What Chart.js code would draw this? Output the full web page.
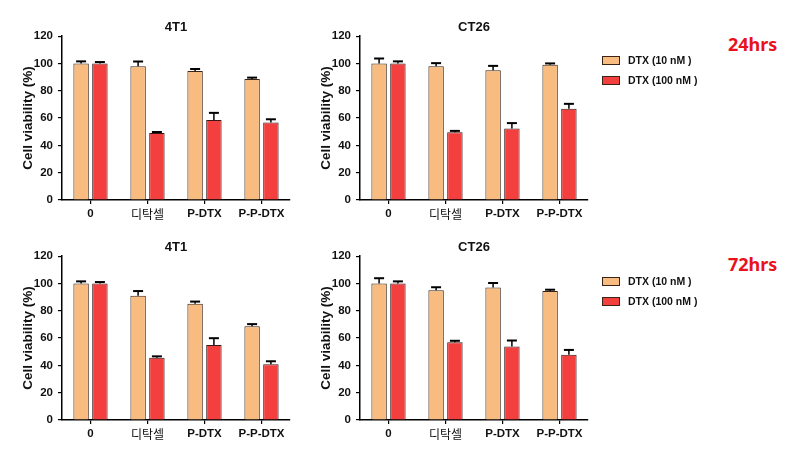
<!DOCTYPE html>
<html>
<head>
<meta charset="utf-8">
<script src="https://cdn.jsdelivr.net/npm/chart.js@4.4.1/dist/chart.umd.min.js"></script>
<style>
  html, body { margin: 0; padding: 0; background: #fff; }
  body { width: 805px; height: 461px; position: relative; overflow: hidden;
         font-family: "Liberation Sans", Arial, sans-serif; }
  .panel { position: absolute; width: 300px; height: 230px; }
  .legend { position: absolute; left: 602px; font-size: 10.5px; font-weight: bold; color: #111; }
  .legend .row { position: absolute; left: 0; white-space: nowrap; height: 12px; line-height: 12px; }
  .legend .box { position: absolute; left: 0; top: 2px; width: 16px; height: 7px; border: 1px solid #3b2416; }
  .legend .lbl { position: absolute; left: 26px; top: 0; }
  .hrs { position: absolute; left: 728px; color: #e8121e; font-size: 18px; font-weight: bold;
         font-family: "Noto Sans", "Liberation Sans", sans-serif; line-height: 20px; }
</style>
</head>
<body>
<div class="panel" style="left:0;top:0"><canvas id="c4T1_24"></canvas></div>
<div class="panel" style="left:298px;top:0"><canvas id="cCT26_24"></canvas></div>
<div class="panel" style="left:0;top:220px"><canvas id="c4T1_72"></canvas></div>
<div class="panel" style="left:298px;top:220px"><canvas id="cCT26_72"></canvas></div>

<div class="hrs" style="top:34px">24hrs</div>
<div class="hrs" style="top:254px">72hrs</div>
<div class="legend" id="leg24" style="top:54px"></div>
<div class="legend" id="leg72" style="top:275px"></div>

<script>
/* ==========================
   DADOS
========================== */
const categories = ["0", "디탁셀", "P-DTX", "P-P-DTX"];
const seriesNames = ["DTX (10 nM )", "DTX (100 nM )"];
const seriesColors = ["#f9bc80", "#f3403f"];
const yTicks = [0, 20, 40, 60, 80, 100, 120];

// 4T1 - 24hrs
const v4T1_24_10 = [100, 98, 94.4, 88.6];
const e4T1_24_10 = [1.5, 3.4, 1.5, 1];
const v4T1_24_100 = [100, 49, 58.6, 56.7];
const e4T1_24_100 = [1, 0.8, 5.2, 2.4];

// CT26 - 24hrs
const vCT26_24_10 = [100, 98, 95, 99];
const eCT26_24_10 = [3.6, 2.2, 3.2, 1];
const vCT26_24_100 = [100, 49.6, 52.3, 66.8];
const eCT26_24_100 = [1.5, 1, 4, 3.6];

// 4T1 - 72hrs
const v4T1_72_10 = [100, 91, 85.2, 68.7];
const e4T1_72_10 = [1.5, 3.4, 1.5, 1.5];
const v4T1_72_100 = [100, 45.6, 54.9, 40.8];
const e4T1_72_100 = [1, 1, 5, 2.2];

// CT26 - 72hrs
const vCT26_72_10 = [100, 95, 97, 94.4];
const eCT26_72_10 = [3.8, 2.2, 3.3, 1];
const vCT26_72_100 = [100, 57, 53.9, 47.8];
const eCT26_72_100 = [1.5, 1, 4.3, 3.5];

const FONT = "'Liberation Sans', Arial, 'Noto Sans CJK KR', sans-serif";

/* ==========================
   PLUGIN - BARRAS DE ERRO
========================== */
const errorBars = {
    id: "errorBars",
    afterDatasetsDraw(chart) {
        const ctx = chart.ctx;
        const yScale = chart.scales.y;
        chart.data.datasets.forEach((ds, i) => {
            const meta = chart.getDatasetMeta(i);
            meta.data.forEach((bar, j) => {
                const err = ds.errors[j];
                const yTop = yScale.getPixelForValue(ds.data[j] + err);
                const yBase = yScale.getPixelForValue(ds.data[j]);
                ctx.save();
                ctx.strokeStyle = "#000";
                ctx.lineWidth = 1.5;
                ctx.beginPath();
                ctx.moveTo(bar.x, yBase);
                ctx.lineTo(bar.x, yTop);
                ctx.stroke();
                ctx.lineWidth = 2;
                ctx.beginPath();
                ctx.moveTo(bar.x - 5, yTop);
                ctx.lineTo(bar.x + 5, yTop);
                ctx.stroke();
                ctx.restore();
            });
        });
    }
};

/* ==========================
   CHART - BAR
========================== */
function renderPanel(id, title, low, lowErr, high, highErr) {
    new Chart(document.getElementById(id), {
        type: "bar",
        data: {
            labels: categories,
            datasets: [
                { label: seriesNames[0], data: low, errors: lowErr,
                  backgroundColor: seriesColors[0], borderColor: "#3b2416", borderWidth: 1,
                  categoryPercentage: 0.66, barPercentage: 0.82 },
                { label: seriesNames[1], data: high, errors: highErr,
                  backgroundColor: seriesColors[1], borderColor: "#3b1616", borderWidth: 1,
                  categoryPercentage: 0.66, barPercentage: 0.82 }
            ]
        },
        options: {
            responsive: true,
            maintainAspectRatio: false,
            animation: false,
            layout: { padding: { left: 0, right: 10, top: 0, bottom: 0 } },
            plugins: {
                legend: { display: false },
                tooltip: { enabled: false },
                title: {
                    display: true,
                    fullSize: false,
                    text: title,
                    color: "#111",
                    font: { family: FONT, size: 13, weight: "bold" },
                    padding: { top: 20, bottom: 0.5 }
                }
            },
            scales: {
                x: {
                    offset: true,
                    afterFit: (s) => { s.height = 30; },
                    grid: { display: true, drawOnChartArea: false, offset: false,
                            tickLength: 4, color: "#000", lineWidth: 1.2 },
                    border: { color: "#000", width: 1.5 },
                    ticks: {
                        color: "#111", padding: 3, maxRotation: 0,
                        font: (c) => c.index === 1
                            ? { family: "'Noto Sans CJK KR', sans-serif", size: 12, weight: "normal" }
                            : { family: FONT, size: 11.5, weight: "bold" }
                    }
                },
                y: {
                    min: 0,
                    max: 120,
                    afterFit: (s) => { s.width = 62; },
                    afterBuildTicks: (s) => { s.ticks = yTicks.map(v => ({ value: v })); },
                    grid: { display: true, drawOnChartArea: false, tickLength: 4,
                            color: "#000", lineWidth: 1.2 },
                    border: { color: "#000", width: 1.5 },
                    ticks: { color: "#111", padding: 5,
                             font: { family: FONT, size: 11.5, weight: "bold" } },
                    title: {
                        display: true,
                        text: "Cell viability (%)",
                        color: "#111",
                        font: { family: FONT, size: 13.5, weight: "bold" },
                        padding: { top: 20, bottom: 0 }
                    }
                }
            }
        },
        plugins: [errorBars]
    });
}

function renderLegend(id) {
    const el = document.getElementById(id);
    seriesNames.forEach((name, i) => {
        const row = document.createElement("div");
        row.className = "row";
        row.style.top = (i * 20) + "px";
        row.innerHTML = `<span class="box" style="background:${seriesColors[i]}"></span><span class="lbl">${name}</span>`;
        el.appendChild(row);
    });
}

/* ==========================
   INIT
========================== */
renderPanel("c4T1_24", "4T1", v4T1_24_10, e4T1_24_10, v4T1_24_100, e4T1_24_100);
renderPanel("cCT26_24", "CT26", vCT26_24_10, eCT26_24_10, vCT26_24_100, eCT26_24_100);
renderPanel("c4T1_72", "4T1", v4T1_72_10, e4T1_72_10, v4T1_72_100, e4T1_72_100);
renderPanel("cCT26_72", "CT26", vCT26_72_10, eCT26_72_10, vCT26_72_100, eCT26_72_100);
renderLegend("leg24");
renderLegend("leg72");
</script>
</body>
</html>
